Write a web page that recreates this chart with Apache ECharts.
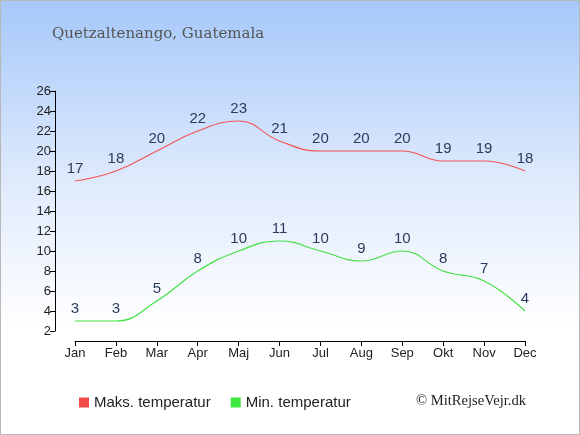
<!DOCTYPE html>
<html><head><meta charset="utf-8">
<script src="https://cdn.jsdelivr.net/npm/echarts@6/dist/echarts.min.js"></script>
<style>
html,body{margin:0;padding:0;}
#c{width:578px;height:433px;border:1px solid #b8b8b8;background:linear-gradient(to bottom,#a6c8fa 0%,#dde9fc 40%,#ffffff 75%,#ffffff 100%);}
</style></head><body>
<div id="c"></div>
<script>
const months = ['Jan','Feb','Mar','Apr','Maj','Jun','Jul','Aug','Sep','Okt','Nov','Dec'];
const maxTemp = [17,18,20,22,23,21,20,20,20,19,19,18];
const minTemp = [3,3,5,8,10,11,10,9,10,8,7,4];
const chart = echarts.init(document.getElementById('c'));
const lbl = {show:true,position:'top',distance:5,color:'#2b3b5c',fontSize:15,fontFamily:'Liberation Sans, Arial'};
chart.setOption({
  animation:false,
  title:[
    {text:'Quetzaltenango, Guatemala',left:46,top:21,textStyle:{fontFamily:'DejaVu Serif, Liberation Serif',fontWeight:'normal',fontSize:15,color:'#555'}},
    {text:'© MitRejseVejr.dk',left:410,top:388,textStyle:{fontFamily:'Liberation Serif, DejaVu Serif',fontWeight:'normal',fontSize:14.6,color:'#222'}}
  ],
  legend:{left:73,top:389,itemWidth:10,itemHeight:10,itemGap:20,icon:'rect',
    textStyle:{fontFamily:'Liberation Sans, Arial',fontSize:15,color:'#222'},
    data:[{name:'Maks. temperatur',itemStyle:{color:'#f24b4b'}},{name:'Min. temperatur',itemStyle:{color:'#3ee83e'}}]},
  grid:{left:74,right:54,top:90,bottom:103},
  xAxis:{type:'category',data:months,boundaryGap:false,offset:10,
    axisLine:{lineStyle:{color:'#000'}},axisTick:{alignWithLabel:true,length:5,lineStyle:{color:'#000'}},
    axisLabel:{color:'#222',fontSize:13,fontFamily:'Liberation Sans, Arial',margin:6},splitLine:{show:false}},
  yAxis:{type:'value',min:2,max:26,interval:2,offset:20,
    axisLine:{show:true,lineStyle:{color:'#000'}},axisTick:{show:true,length:5,lineStyle:{color:'#000'}},
    axisLabel:{color:'#222',fontSize:13,fontFamily:'Liberation Sans, Arial',margin:4},splitLine:{show:false}},
  series:[
    {name:'Maks. temperatur',type:'line',data:maxTemp,smooth:0.45,symbol:'circle',symbolSize:0.1,showSymbol:true,
      itemStyle:{color:'#f24b4b'},lineStyle:{color:'#f25555',width:1.2},label:lbl},
    {name:'Min. temperatur',type:'line',data:minTemp,smooth:0.45,symbol:'circle',symbolSize:0.1,showSymbol:true,
      itemStyle:{color:'#3ee83e'},lineStyle:{color:'#44e044',width:1.2},label:lbl}
  ]
});
</script></body></html>
